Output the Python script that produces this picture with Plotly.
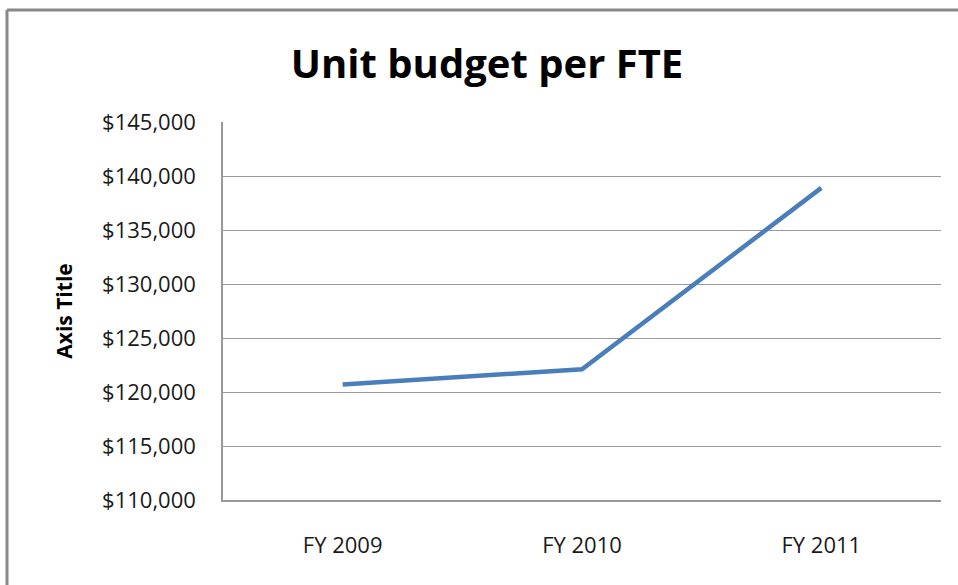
import plotly.graph_objects as go

years = ["FY 2009", "FY 2010", "FY 2011"]
budget = [120700, 122100, 138900]
tick_vals = [110000, 115000, 120000, 125000, 130000, 135000, 140000, 145000]
tick_text = ["$110,000", "$115,000", "$120,000", "$125,000", "$130,000", "$135,000", "$140,000", "$145,000"]

W, H = 958, 585
L, R, T, B = 223, 17, 122, 85
pw, ph = W - L - R, H - T - B

def px(x):
    return (x - L) / pw

def py(y):
    return (H - B - y) / ph

fig = go.Figure()
fig.add_trace(go.Scatter(x=years, y=budget, mode="lines",
                         line=dict(color="#4a7ebb", width=4.5)))

# outer chart border (left and top edges visible)
fig.add_shape(type="line", xref="paper", yref="paper",
              x0=px(7), x1=px(970), y0=py(10), y1=py(10),
              line=dict(color="#888888", width=3))
fig.add_shape(type="line", xref="paper", yref="paper",
              x0=px(7), x1=px(7), y0=py(10), y1=py(600),
              line=dict(color="#888888", width=3))

fig.update_layout(
    width=W, height=H,
    margin=dict(l=L, r=R, t=T, b=B),
    paper_bgcolor="white", plot_bgcolor="white",
    showlegend=False,
    font=dict(family="Open Sans", color="#1a1a1a"),
    title=dict(text="<b>Unit budget per FTE</b>", x=487 / W, xanchor="center",
               y=1 - 64 / H, yanchor="middle",
               font=dict(family="Open Sans", size=40, color="black")),
    xaxis=dict(range=[-0.5, 2.5], showgrid=False, showline=True, linecolor="#999999",
               linewidth=1.5, ticks="", tickfont=dict(size=22), ticklabelstandoff=25),
    yaxis=dict(range=[110000, 145000], tickvals=tick_vals, ticktext=tick_text,
               showgrid=True, gridcolor="#999999", gridwidth=1.2,
               showline=True, linecolor="#999999", linewidth=1.5,
               ticks="", tickfont=dict(size=22), zeroline=False, ticklabelstandoff=21,
               title=dict(text="<b>Axis Title</b>", font=dict(size=21, color="black"),
                          standoff=24)),
)

fig.write_html("out.html", config={"displayModeBar": False},
               post_script="document.body.style.margin='0';")
